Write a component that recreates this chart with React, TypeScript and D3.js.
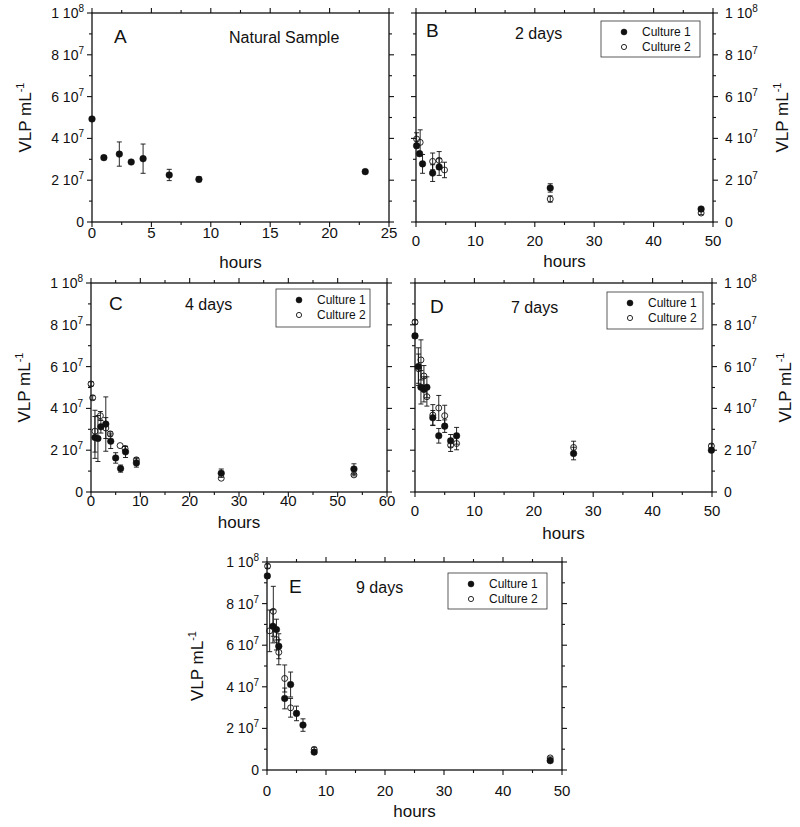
import React from "react";
import * as d3 from "d3";

// ---- DATA (VLP values in units of 1e7 per mL) ----
const hoursA = [0, 1, 2.3, 3.3, 4.3, 6.5, 9.0, 23.0];
const vlpA = [4.93, 3.08, 3.25, 2.87, 3.03, 2.25, 2.04, 2.41];
const errA = [0, 0, 0.58, 0, 0.7, 0.27, 0.12, 0];

const hoursB1 = [0.1, 0.6, 1.1, 2.8, 3.9, 22.6, 48];
const vlpB1 = [3.65, 3.27, 2.78, 2.34, 2.63, 1.63, 0.62];
const errB1 = [0.1, 0.1, 0.45, 0.4, 0.4, 0.2, 0.05];
const hoursB2 = [0.1, 0.7, 2.8, 3.9, 4.8, 22.6, 48];
const vlpB2 = [3.97, 3.81, 2.9, 2.95, 2.49, 1.1, 0.43];
const errB2 = [0.3, 0.6, 0.4, 0.42, 0.37, 0.15, 0.08];

const hoursC1 = [0.8, 1.4, 2.0, 3.0, 4.0, 5.0, 6.0, 7.0, 9.2, 26.4, 53.3];
const vlpC1 = [2.61, 2.56, 3.12, 3.25, 2.43, 1.63, 1.12, 1.92, 1.39, 0.9, 1.1];
const errC1 = [1.0, 1.1, 0.3, 1.3, 0.35, 0.25, 0.17, 0.27, 0.2, 0.2, 0.25];
const hoursC2 = [0, 0.34, 0.8, 1.9, 3.0, 3.9, 5.9, 6.9, 9.2, 26.4, 53.3];
const vlpC2 = [5.17, 4.51, 2.91, 3.65, 3.06, 2.78, 2.22, 2.08, 1.54, 0.66, 0.82];
const errC2 = [0.1, 0.1, 1.0, 0.2, 0.5, 0.1, 0, 0.1, 0.1, 0, 0.05];

const hoursD1 = [0, 0.56, 1.0, 1.5, 2.0, 3, 4, 5, 6, 7, 26.7, 49.9];
const vlpD1 = [7.47, 6.0, 5.01, 4.91, 5.01, 3.55, 2.69, 3.15, 2.45, 2.69, 1.84, 2.0];
const errD1 = [0.1, 0.9, 0.8, 0.6, 0.5, 0.35, 0.35, 0.3, 0.3, 0.4, 0.3, 0.1];
const hoursD2 = [0, 0.6, 1.0, 1.5, 2.0, 3, 4, 5, 6, 7, 26.7, 49.9];
const vlpD2 = [8.13, 5.9, 6.32, 5.55, 4.56, 3.68, 4.02, 3.65, 2.24, 2.32, 2.13, 2.2];
const errD2 = [0.1, 0.7, 0.96, 0.5, 0.45, 0.5, 0.6, 0.5, 0.3, 0.3, 0.3, 0.1];

const hoursE1 = [0.06, 1.0, 1.6, 2.0, 3, 4, 5, 6.1, 8, 48];
const vlpE1 = [9.33, 6.91, 6.75, 5.95, 3.44, 4.11, 2.72, 2.16, 0.86, 0.45];
const errE1 = [0.1, 0.8, 0.5, 0.6, 0.5, 0.6, 0.35, 0.3, 0.1, 0.05];
const hoursE2 = [0.1, 0.45, 1.07, 1.6, 2.0, 3, 4, 8, 48];
const vlpE2 = [9.8, 6.69, 7.63, 6.27, 5.66, 4.4, 2.99, 0.99, 0.58];
const errE2 = [0.1, 1.0, 1.2, 0.5, 0.6, 0.65, 0.45, 0.1, 0.05];

const yTickValues = [0, 2, 4, 6, 8, 10];
const yTickMantissa = ["0", "2", "4", "6", "8", "1"];
const yTickExponent = ["", "7", "7", "7", "7", "8"];
const seriesNames = ["Culture 1", "Culture 2"];
const panelLetters = ["A", "B", "C", "D", "E"];
const panelTitles = ["Natural Sample", "2 days", "4 days", "7 days", "9 days"];

const FONT = "'Liberation Sans', Arial, Helvetica, sans-serif";
const INK = "#111";

type Series = { x: number[]; y: number[]; e: number[]; filled: boolean };

type PanelCfg = {
  letter: string;
  title: string;
  left: number;
  top: number;
  width: number;
  height: number;
  xMax: number;
  xMajor: number;
  xMinor: number;
  side: "left" | "right";
  series: Series[];
  letterPos: [number, number];
  titlePos: [number, number];
  xLabelY: number;
  xTickLabelY: number;
  yLabelX: number;
  legend?: { x: number; y: number; w: number; h: number };
};

function Panel({ cfg }: { cfg: PanelCfg }) {
  const x = d3.scaleLinear().domain([0, cfg.xMax]).range([cfg.left, cfg.left + cfg.width]);
  const y = d3.scaleLinear().domain([0, 10]).range([cfg.top + cfg.height, cfg.top]);
  const xMajors = d3.range(0, cfg.xMax + 1e-9, cfg.xMajor);
  const xMinors = d3.range(0, cfg.xMax + 1e-9, cfg.xMinor).filter((v) => !xMajors.some((m) => Math.abs(m - v) < 1e-9));
  const yMinors = [1, 3, 5, 7, 9];
  const L = cfg.left, R = cfg.left + cfg.width, T = cfg.top, B = cfg.top + cfg.height;
  const maj = 5, mnr = 3;
  const sw = 1.1;
  const labelX = cfg.side === "left" ? L - 8 : R + 12;
  const anchor = cfg.side === "left" ? "end" : "start";
  return (
    <g>
      <rect x={L} y={T} width={cfg.width} height={cfg.height} fill="none" stroke={INK} strokeWidth={1.3} />
      {xMajors.map((v) => (
        <g key={"xm" + v}>
          <line x1={x(v)} x2={x(v)} y1={B} y2={B + maj} stroke={INK} strokeWidth={sw} />
          <line x1={x(v)} x2={x(v)} y1={T} y2={T - maj} stroke={INK} strokeWidth={sw} />
          <text x={x(v)} y={cfg.xTickLabelY} textAnchor="middle" fontSize={15} fontFamily={FONT} fill={INK}>
            {v}
          </text>
        </g>
      ))}
      {xMinors.map((v) => (
        <g key={"xn" + v}>
          <line x1={x(v)} x2={x(v)} y1={B} y2={B + mnr} stroke={INK} strokeWidth={sw} />
          <line x1={x(v)} x2={x(v)} y1={T} y2={T - mnr} stroke={INK} strokeWidth={sw} />
        </g>
      ))}
      {yTickValues.map((v, i) => (
        <g key={"ym" + v}>
          <line x1={L} x2={L - maj} y1={y(v)} y2={y(v)} stroke={INK} strokeWidth={sw} />
          <line x1={R} x2={R + maj} y1={y(v)} y2={y(v)} stroke={INK} strokeWidth={sw} />
          <text x={labelX} y={y(v) + 5} textAnchor={anchor} fontSize={14} fontFamily={FONT} fill={INK}>
            {yTickExponent[i] === "" ? (
              yTickMantissa[i]
            ) : (
              <>
                <tspan>{yTickMantissa[i] + " 10"}</tspan>
                <tspan dy={-6} fontSize={10}>
                  {yTickExponent[i]}
                </tspan>
              </>
            )}
          </text>
        </g>
      ))}
      {yMinors.map((v) => (
        <g key={"yn" + v}>
          <line x1={L} x2={L - mnr} y1={y(v)} y2={y(v)} stroke={INK} strokeWidth={sw} />
          <line x1={R} x2={R + mnr} y1={y(v)} y2={y(v)} stroke={INK} strokeWidth={sw} />
        </g>
      ))}
      <text x={(L + R) / 2} y={cfg.xLabelY} textAnchor="middle" fontSize={17} fontFamily={FONT} fill={INK}>
        hours
      </text>
      <text
        transform={`translate(${cfg.yLabelX},${(T + B) / 2}) rotate(-90)`}
        textAnchor="middle"
        dy={6}
        fontSize={17}
        fontFamily={FONT}
        fill={INK}
      >
        <tspan>VLP mL</tspan>
        <tspan dy={-7} fontSize={11}>
          -1
        </tspan>
      </text>
      <text x={cfg.letterPos[0]} y={cfg.letterPos[1]} fontSize={19} fontFamily={FONT} fill={INK}>
        {cfg.letter}
      </text>
      <text x={cfg.titlePos[0]} y={cfg.titlePos[1]} fontSize={16} fontFamily={FONT} fill={INK}>
        {cfg.title}
      </text>
      {cfg.series.map((s, si) => (
        <g key={"s" + si}>
          {s.x.map((hv, i) => {
            const cx = x(hv);
            const cy = y(s.y[i]);
            const e = s.e[i];
            const y1 = y(s.y[i] + e);
            const y2 = y(s.y[i] - e);
            return (
              <g key={i}>
                {e > 0 && (
                  <g stroke={INK} strokeWidth={0.9}>
                    <line x1={cx} x2={cx} y1={y1} y2={y2} />
                    <line x1={cx - 2.5} x2={cx + 2.5} y1={y1} y2={y1} />
                    <line x1={cx - 2.5} x2={cx + 2.5} y1={y2} y2={y2} />
                  </g>
                )}
                <circle
                  cx={cx}
                  cy={cy}
                  r={s.filled ? 3.3 : 3}
                  fill={s.filled ? INK : "white"}
                  fillOpacity={s.filled ? 1 : 0}
                  stroke={INK}
                  strokeWidth={s.filled ? 0.5 : 0.9}
                />
              </g>
            );
          })}
        </g>
      ))}
      {cfg.legend && (
        <g>
          <rect
            x={cfg.legend.x}
            y={cfg.legend.y}
            width={cfg.legend.w}
            height={cfg.legend.h}
            fill="white"
            stroke="#333"
            strokeWidth={0.8}
          />
          {seriesNames.map((n, i) => (
            <g key={n}>
              <circle
                cx={cfg.legend!.x + 23}
                cy={cfg.legend!.y + 11 + i * 15}
                r={i === 0 ? 3 : 2.6}
                fill={i === 0 ? INK : "white"}
                stroke={INK}
                strokeWidth={i === 0 ? 0.5 : 0.9}
              />
              <text
                x={cfg.legend!.x + 41}
                y={cfg.legend!.y + 15 + i * 15}
                fontSize={12}
                fontFamily={FONT}
                fill={INK}
              >
                {n}
              </text>
            </g>
          ))}
        </g>
      )}
    </g>
  );
}

const panels: PanelCfg[] = [
  {
    letter: panelLetters[0],
    title: panelTitles[0],
    left: 92,
    top: 13,
    width: 297,
    height: 209,
    xMax: 25,
    xMajor: 5,
    xMinor: 2.5,
    side: "left",
    series: [{ x: hoursA, y: vlpA, e: errA, filled: true }],
    letterPos: [114, 43],
    titlePos: [229, 43],
    xLabelY: 268,
    xTickLabelY: 238,
    yLabelX: 25,
  },
  {
    letter: panelLetters[1],
    title: panelTitles[1],
    left: 416,
    top: 13,
    width: 297,
    height: 209,
    xMax: 50,
    xMajor: 10,
    xMinor: 5,
    side: "right",
    series: [
      { x: hoursB2, y: vlpB2, e: errB2, filled: false },
      { x: hoursB1, y: vlpB1, e: errB1, filled: true },
    ],
    letterPos: [426, 37],
    titlePos: [515, 39],
    xLabelY: 267,
    xTickLabelY: 246,
    yLabelX: 782,
    legend: { x: 601, y: 21, w: 99, h: 36 },
  },
  {
    letter: panelLetters[2],
    title: panelTitles[2],
    left: 91,
    top: 283,
    width: 296,
    height: 209,
    xMax: 60,
    xMajor: 10,
    xMinor: 5,
    side: "left",
    series: [
      { x: hoursC2, y: vlpC2, e: errC2, filled: false },
      { x: hoursC1, y: vlpC1, e: errC1, filled: true },
    ],
    letterPos: [109, 310],
    titlePos: [185, 310],
    xLabelY: 528,
    xTickLabelY: 506,
    yLabelX: 24,
    legend: { x: 276, y: 289, w: 94, h: 38 },
  },
  {
    letter: panelLetters[3],
    title: panelTitles[3],
    left: 415,
    top: 283,
    width: 297,
    height: 209,
    xMax: 50,
    xMajor: 10,
    xMinor: 5,
    side: "right",
    series: [
      { x: hoursD2, y: vlpD2, e: errD2, filled: false },
      { x: hoursD1, y: vlpD1, e: errD1, filled: true },
    ],
    letterPos: [430, 313],
    titlePos: [511, 313],
    xLabelY: 539,
    xTickLabelY: 516,
    yLabelX: 785,
    legend: { x: 607, y: 292, w: 96, h: 37 },
  },
  {
    letter: panelLetters[4],
    title: panelTitles[4],
    left: 267,
    top: 562,
    width: 295,
    height: 208,
    xMax: 50,
    xMajor: 10,
    xMinor: 5,
    side: "left",
    series: [
      { x: hoursE2, y: vlpE2, e: errE2, filled: false },
      { x: hoursE1, y: vlpE1, e: errE1, filled: true },
    ],
    letterPos: [289, 593],
    titlePos: [356, 593],
    xLabelY: 817,
    xTickLabelY: 796,
    yLabelX: 197,
    legend: { x: 448, y: 573, w: 99, h: 36 },
  },
];

export default function App() {
  return (
    <svg
      width={800}
      height={827}
      viewBox="0 0 800 827"
      style={{ position: "absolute", left: 0, top: 0, background: "white" }}
    >
      <rect x={0} y={0} width={800} height={827} fill="white" />
      {panels.map((p) => (
        <Panel key={p.letter} cfg={p} />
      ))}
    </svg>
  );
}
